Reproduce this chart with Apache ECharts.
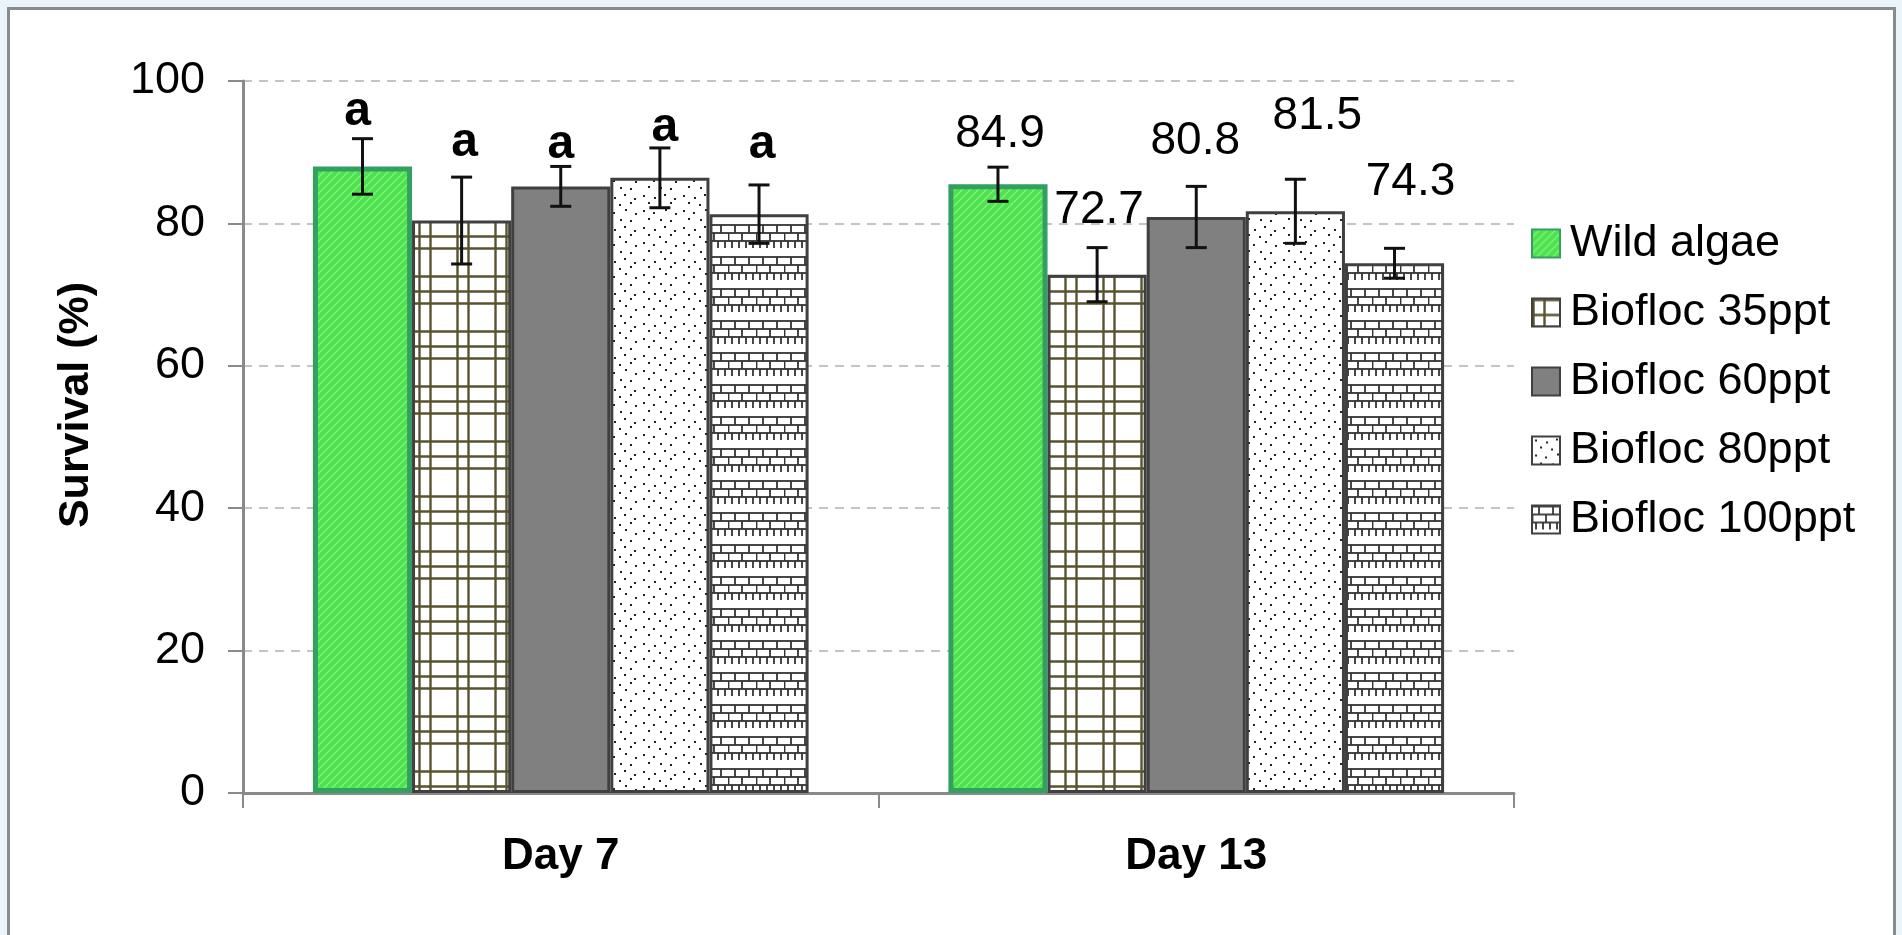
<!DOCTYPE html>
<html>
<head>
<meta charset="utf-8">
<script src="https://cdn.jsdelivr.net/npm/echarts@6/dist/echarts.min.js"></script>
<style>
  html, body { margin: 0; padding: 0; background: #e9f5fb; }
  #frame { position: absolute; left: 7px; top: 7px; width: 1883px; height: 960px; background: #ffffff; border: 3px solid #8a8a8a; }
  #chart { position: absolute; left: 0; top: 0; width: 1902px; height: 935px; }
</style>
</head>
<body>
<div id="frame"></div>
<div id="chart"></div>
<script>
// ---- data ----
const categories = ['Day 7', 'Day 13'];
const seriesNames = ['Wild algae', 'Biofloc 35ppt', 'Biofloc 60ppt', 'Biofloc 80ppt', 'Biofloc 100ppt'];
const day7Values = [88.0, 80.4, 85.2, 86.4, 81.3];
const day13Values = [85.5, 72.8, 80.9, 81.7, 74.4];
const day7Errors = [3.9, 6.1, 2.8, 4.2, 4.1];
const day13Errors = [2.4, 3.8, 4.3, 4.5, 2.1];
const day7Labels = ['a', 'a', 'a', 'a', 'a'];
const day13Labels = ['84.9', '72.7', '80.8', '81.5', '74.3'];
const yTicks = { min: 0, max: 100, interval: 20 };

// ---- styles ----
const FONT = 'Liberation Sans, Arial, Helvetica, sans-serif';
const GAP = 0.22;
// label placement: pixel shift of label centre from the error bar top [dx, dy]
const labelShift = [
  [[-5, -27], [3, -34], [0, -22], [5, -20], [3, -40]],
  [[2, -33], [2, -37], [-1, -45], [22, -63], [16, -66]]
];
const labelFonts = ['bold 48px ' + FONT, 'normal 46px ' + FONT];

function tile(w, h, draw) {
  const c = document.createElement('canvas');
  c.width = w; c.height = h;
  const g = c.getContext('2d');
  draw(g, w, h);
  return c;
}
function hline(g, x1, x2, y) { g.beginPath(); g.moveTo(x1, y); g.lineTo(x2, y); g.stroke(); }
function vline(g, x, y1, y2) { g.beginPath(); g.moveTo(x, y1); g.lineTo(x, y2); g.stroke(); }

const greenTile = tile(8, 8, (g, w, h) => {
  g.fillStyle = '#4ee24e'; g.fillRect(0, 0, w, h);
  g.strokeStyle = 'rgba(170,255,170,0.55)'; g.lineWidth = 1.4;
  for (let k = -1; k <= 1; k++) {
    g.beginPath(); g.moveTo(k * 8, h); g.lineTo(k * 8 + 8, 0); g.stroke();
  }
});
const gridTile = tile(38, 55, (g, w, h) => {
  g.fillStyle = '#ffffff'; g.fillRect(0, 0, w, h);
  g.strokeStyle = '#58532f'; g.lineWidth = 2.4;
  [1.5, 12.5].forEach(x => vline(g, x, 0, h));
  [1.5, 16.5, 28.5].forEach(y => hline(g, 0, w, y));
});
const dotTile = tile(40, 32, (g, w, h) => {
  g.fillStyle = '#ffffff'; g.fillRect(0, 0, w, h);
  g.fillStyle = '#222';
  [[3, 3], [14, 5], [24, 2], [34, 6], [8, 10], [19, 12], [30, 10], [3, 18], [13, 20], [25, 17],
   [35, 21], [8, 26], [20, 27], [30, 28]].forEach(p => g.fillRect(p[0], p[1], 2, 2));
});
const brickTile = tile(28, 32, (g, w, h) => {
  g.fillStyle = '#ffffff'; g.fillRect(0, 0, w, h);
  g.strokeStyle = '#333'; g.lineWidth = 1.8;
  [1, 9, 17].forEach(y => hline(g, 0, w, y));
  [7, 21].forEach(x => vline(g, x, 1, 9));
  [0.5, 14].forEach(x => vline(g, x, 9, 17));
  [4, 11, 18, 25].forEach(x => vline(g, x, 17, 24));
});

const barStyles = [
  { color: { image: greenTile, repeat: 'repeat' }, borderColor: '#33a062', borderWidth: 5 },
  { color: { image: gridTile, repeat: 'repeat' }, borderColor: '#404040', borderWidth: 3 },
  { color: '#808080', borderColor: '#404040', borderWidth: 3 },
  { color: { image: dotTile, repeat: 'repeat' }, borderColor: '#404040', borderWidth: 3 },
  { color: { image: brickTile, repeat: 'repeat' }, borderColor: '#404040', borderWidth: 3 }
];

const valuesByCat = [day7Values, day13Values];
const errorsByCat = [day7Errors, day13Errors];
const labelsByCat = [day7Labels, day13Labels];

const barSeries = seriesNames.map((name, s) => ({
  name: name,
  type: 'bar',
  data: valuesByCat.map(vals => vals[s]),
  barGap: '0%',
  barCategoryGap: (GAP * 100) + '%',
  itemStyle: barStyles[s],
  z: 2
}));

const errData = [];
valuesByCat.forEach((vals, c) => vals.forEach((v, s) => errData.push([c, s, v, errorsByCat[c][s]])));

const errSeries = {
  type: 'custom',
  name: 'errors',
  z: 5,
  data: errData,
  encode: { x: 0, y: 2 },
  renderItem: function (params, api) {
    const c = api.value(0), s = api.value(1), v = api.value(2), e = api.value(3);
    const band = api.size([1, 0])[0];
    const group = band * (1 - GAP);
    const barW = group / seriesNames.length;
    const cx = api.coord([c, 0])[0] - group / 2 + barW * (s + 0.5);
    const yTop = api.coord([c, v + e])[1];
    const yBot = api.coord([c, v - e])[1];
    const half = 10.5;
    const ls = { stroke: '#111', lineWidth: 3 };
    const sh = labelShift[c][s];
    return {
      type: 'group',
      children: [
        { type: 'line', shape: { x1: cx, y1: yTop, x2: cx, y2: yBot }, style: ls },
        { type: 'line', shape: { x1: cx - half, y1: yTop, x2: cx + half, y2: yTop }, style: ls },
        { type: 'line', shape: { x1: cx - half, y1: yBot, x2: cx + half, y2: yBot }, style: ls },
        { type: 'text', x: cx + sh[0], y: yTop + sh[1],
          style: { text: labelsByCat[c][s], font: labelFonts[c], fill: '#000',
                   align: 'center', verticalAlign: 'middle' } }
      ]
    };
  }
};

const chart = echarts.init(document.getElementById('chart'), null, { renderer: 'canvas' });
chart.setOption({
  animation: false,
  backgroundColor: 'transparent',
  grid: { left: 243, right: 388, top: 81, bottom: 142, containLabel: false },
  legend: {
    data: seriesNames,
    orient: 'vertical',
    icon: 'rect',
    left: 1526,
    top: 216,
    itemWidth: 28,
    itemHeight: 28,
    itemGap: 24,
    textStyle: { fontSize: 45, fontFamily: FONT, color: '#000', lineHeight: 42, padding: [0, 0, 0, 5] }
  },
  xAxis: {
    type: 'category',
    data: categories,
    axisLine: { lineStyle: { color: '#8a8a8a', width: 3 } },
    axisTick: { show: true, length: 15, lineStyle: { color: '#8a8a8a', width: 2 } },
    axisLabel: { fontSize: 44, fontWeight: 'bold', fontFamily: FONT, color: '#000', margin: 42 }
  },
  yAxis: {
    type: 'value',
    min: yTicks.min, max: yTicks.max, interval: yTicks.interval,
    axisLine: { show: true, lineStyle: { color: '#8a8a8a', width: 3 } },
    axisTick: { show: true, length: 15, lineStyle: { color: '#8a8a8a', width: 2 } },
    axisLabel: { fontSize: 45, fontFamily: FONT, color: '#000', margin: 38 },
    splitLine: { show: true, lineStyle: { color: '#c4c4c4', width: 2, type: [9, 7] } }
  },
  graphic: [{
    type: 'text', x: 76, y: 405, rotation: Math.PI / 2,
    style: { text: 'Survival (%)', font: 'bold 43px ' + FONT, fill: '#000', align: 'center', verticalAlign: 'middle' }
  }],
  series: barSeries.concat([errSeries])
});
</script>
</body>
</html>
